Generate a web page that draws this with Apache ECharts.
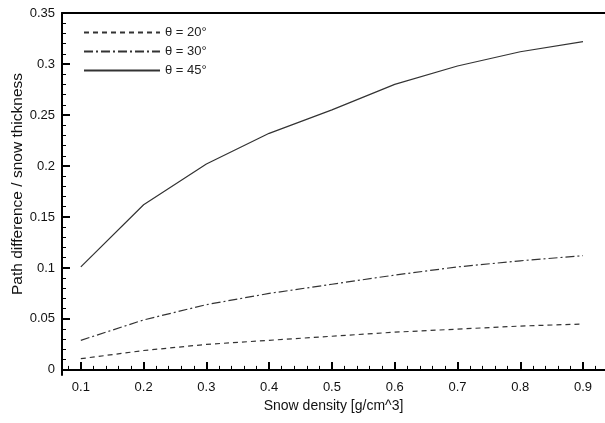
<!DOCTYPE html>
<html>
<head>
<meta charset="utf-8">
<script src="https://cdn.jsdelivr.net/npm/echarts@6/dist/echarts.min.js"></script>
<style>html,body{margin:0;padding:0;background:#fff}#c{width:605px;height:423px}</style>
</head>
<body>
<div id="c"></div>
<script>
var density = [0.1, 0.2, 0.3, 0.4, 0.5, 0.6, 0.7, 0.8, 0.9];
var theta20 = [0.011, 0.019, 0.025, 0.029, 0.033, 0.037, 0.040, 0.043, 0.045];
var theta30 = [0.029, 0.049, 0.064, 0.075, 0.084, 0.093, 0.101, 0.107, 0.112];
var theta45 = [0.101, 0.162, 0.202, 0.232, 0.255, 0.280, 0.298, 0.312, 0.322];
var xMajorTicks = [0.1, 0.2, 0.3, 0.4, 0.5, 0.6, 0.7, 0.8, 0.9];
var xMinorTicks = [0.08, 0.12, 0.14, 0.16, 0.18, 0.22, 0.24, 0.26, 0.28, 0.32, 0.34, 0.36, 0.38, 0.42, 0.44, 0.46, 0.48, 0.52, 0.54, 0.56, 0.58, 0.62, 0.64, 0.66, 0.68, 0.72, 0.74, 0.76, 0.78, 0.82, 0.84, 0.86, 0.88, 0.92];
var yMajorTicks = [0, 0.05, 0.1, 0.15, 0.2, 0.25, 0.3, 0.35];
var yMinorTicks = [0.01, 0.02, 0.03, 0.04, 0.06, 0.07, 0.08, 0.09, 0.11, 0.12, 0.13, 0.14, 0.16, 0.17, 0.18, 0.19, 0.21, 0.22, 0.23, 0.24, 0.26, 0.27, 0.28, 0.29, 0.31, 0.32, 0.33, 0.34];
var seriesNames = ['\u03b8 = 20\u00b0', '\u03b8 = 30\u00b0', '\u03b8 = 45\u00b0'];

var FONT = 'Liberation Sans';
var X_MIN = 0.07, X_MAX = 0.935, Y_MIN = -0.005, Y_MAX = 0.35;

function pairs(ys) { return density.map(function (x, i) { return [x, ys[i]]; }); }
function fmt(v) { return String(Math.round(v * 1000) / 1000); }

var chart = echarts.init(document.getElementById('c'), null, { renderer: 'canvas' });
chart.setOption({
  animation: false,
  backgroundColor: '#fff',
  grid: { left: 62, top: 13, right: 0, bottom: 48, containLabel: false, outerBoundsMode: 'none' },
  legend: {
    orient: 'vertical', left: 78, top: 21, itemWidth: 76, itemHeight: 10, itemGap: 6,
    itemStyle: { opacity: 0 },
    textStyle: { fontFamily: FONT, fontSize: 13, color: '#222' },
    data: seriesNames
  },
  xAxis: [
    {
      type: 'value', min: X_MIN, max: X_MAX, position: 'bottom',
      name: 'Snow density [g/cm^3]', nameLocation: 'middle', nameGap: 24, nameMoveOverlap: false,
      nameTextStyle: { fontFamily: FONT, fontSize: 14, color: '#111' },
      axisLine: { show: true, lineStyle: { color: '#000', width: 2 } },
      axisTick: { show: true, inside: true, length: 8, lineStyle: { color: '#000', width: 2 }, customValues: xMajorTicks },
      axisLabel: { show: true, margin: 6, fontFamily: FONT, fontSize: 13, color: '#111', customValues: xMajorTicks, formatter: fmt },
      splitLine: { show: false }
    },
    {
      type: 'value', min: X_MIN, max: X_MAX, position: 'bottom',
      axisLine: { show: false },
      axisTick: { show: true, inside: true, length: 4, lineStyle: { color: '#000', width: 1 }, customValues: xMinorTicks },
      axisLabel: { show: false },
      splitLine: { show: false }
    },
    {
      type: 'value', min: X_MIN, max: X_MAX, position: 'top',
      axisLine: { show: true, lineStyle: { color: '#000', width: 2 } },
      axisTick: { show: false }, axisLabel: { show: false }, splitLine: { show: false }
    }
  ],
  yAxis: [
    {
      type: 'value', min: Y_MIN, max: Y_MAX, position: 'left',
      name: 'Path difference / snow thickness', nameLocation: 'middle', nameGap: 36, nameMoveOverlap: false,
      nameTextStyle: { fontFamily: FONT, fontSize: 15.5, color: '#111', padding: [0, 0, 0, 20] },
      axisLine: { show: true, lineStyle: { color: '#000', width: 2 } },
      axisTick: { show: true, inside: true, length: 8, lineStyle: { color: '#000', width: 2 }, customValues: yMajorTicks },
      axisLabel: { show: true, margin: 7, fontFamily: FONT, fontSize: 13, color: '#111', customValues: yMajorTicks, formatter: fmt },
      splitLine: { show: false }
    },
    {
      type: 'value', min: Y_MIN, max: Y_MAX, position: 'left',
      axisLine: { show: false },
      axisTick: { show: true, inside: true, length: 4, lineStyle: { color: '#000', width: 1 }, customValues: yMinorTicks },
      axisLabel: { show: false },
      splitLine: { show: false }
    }
  ],
  series: [
    {
      name: seriesNames[0], type: 'line', xAxisIndex: 0, yAxisIndex: 0, symbol: 'none',
      data: pairs(theta20),
      lineStyle: { color: '#333', width: 1.2, type: [5, 4] }, itemStyle: { color: '#333' }
    },
    {
      name: seriesNames[1], type: 'line', xAxisIndex: 0, yAxisIndex: 0, symbol: 'none',
      data: pairs(theta30),
      lineStyle: { color: '#333', width: 1.2, type: [9, 3, 2, 3] }, itemStyle: { color: '#333' }
    },
    {
      name: seriesNames[2], type: 'line', xAxisIndex: 0, yAxisIndex: 0, symbol: 'none',
      data: pairs(theta45),
      lineStyle: { color: '#333', width: 1.2, type: 'solid' }, itemStyle: { color: '#333' }
    }
  ]
});
</script>
</body>
</html>
